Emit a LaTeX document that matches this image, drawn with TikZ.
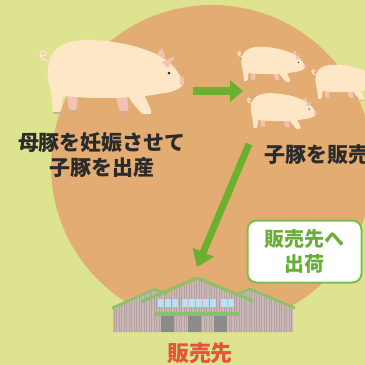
\documentclass[tikz,border=0pt]{standalone}
\usepackage{fontspec}
\newfontfamily\jp{Noto Sans CJK JP}
\usetikzlibrary{arrows.meta}
\definecolor{Field}{HTML}{DDE38F}
\definecolor{Disc}{HTML}{E2AC72}
\definecolor{Leaf}{HTML}{6BB02F}
\definecolor{LeafLine}{HTML}{7CBF4A}
\definecolor{LeafText}{HTML}{6AAE3A}
\definecolor{Brick}{HTML}{E2553B}
\definecolor{Ink}{HTML}{2B2B2B}
\definecolor{Hide}{HTML}{FDE7C6}
\definecolor{HideDark}{HTML}{E9CFAE}
\definecolor{Snout}{HTML}{F4C2B4}
\definecolor{Hoof}{HTML}{C9B09E}
\definecolor{Wall}{HTML}{CAB8B8}
\definecolor{WallLine}{HTML}{B5A1A2}
\definecolor{Roof}{HTML}{8AC166}
\definecolor{Pane}{HTML}{B9E1F4}
\definecolor{Door}{HTML}{8B8B8B}

% one pig, drawn in the frame of the big sow: x shift, y shift, scale
\newcommand{\pig}[3]{%
  \begin{scope}[shift={(#1,#2)},scale=#3]
    \draw[HideDark,line width=#3*2.6pt,line cap=round]
      (51,61) .. controls (45,62) and (40,58) .. (40,54)
      .. controls (40,50) and (46,49) .. (46,53)
      .. controls (46,56) and (42,57) .. (41,55);
    \draw[Hide,line width=#3*1.4pt,line cap=round]
      (51,61) .. controls (45,62) and (40,58) .. (40,54)
      .. controls (40,50) and (46,49) .. (46,53)
      .. controls (46,56) and (42,57) .. (41,55);
    % legs on the far side
    \fill[Snout,rounded corners=#3*2pt] (67,92) -- (78,92) -- (77,109) -- (74,111) -- (70,111) -- (68,106) -- cycle;
    \fill[Snout,rounded corners=#3*2pt] (114,92) -- (126,92) -- (129,109) -- (125,112) -- (120,112) -- (118,104) -- cycle;
    % body
    \fill[Hide] (49,63) .. controls (52,45) and (70,39) .. (92,40)
      .. controls (120,41) and (145,48) .. (160,56)
      .. controls (170,62) and (176,68) .. (180,76)
      .. controls (184,78) and (185,85) .. (181,87)
      .. controls (176,91) and (168,93) .. (158,94)
      .. controls (140,98) and (100,99) .. (75,97)
      .. controls (60,96) and (50,92) .. (48,80)
      .. controls (47,73) and (48,68) .. cycle;
    % legs on the near side
    \fill[Hide,rounded corners=#3*2pt] (49,82) -- (64,88) -- (61,112) -- (53,113) -- (52,98) -- cycle;
    \fill[Hide,rounded corners=#3*2pt] (124,88) -- (141,88) -- (152,112) -- (150,115) -- (143,115) -- (131,101) -- cycle;
    \fill[Hoof] (53,112) rectangle (61,114);
    \fill[Hoof] (143,114) rectangle (151,116);
    \fill[Hoof] (70,110) rectangle (76,112);
    \fill[Hoof] (120,111) rectangle (127,113);
    % head
    \fill[Snout] (182,81) ellipse [x radius=2.5, y radius=4.5];
    \fill[Snout] (156,55) -- (162,48) -- (166,58) -- cycle;
    \fill[Snout] (162,62) -- (175,56) -- (168,68) -- cycle;
    \fill[Ink] (169,73) circle [radius=1.5];
  \end{scope}}

\begin{document}
\begin{tikzpicture}[x=1pt,y=-1pt,
    flow/.style={Leaf,line width=8pt,-{Triangle[length=13pt,width=21pt]}},
    jtext/.style={font=\jp\bfseries\fontsize{21}{25}\selectfont,text=Ink,align=center,inner sep=0pt}]
  \fill[Field] (0,0) rectangle (365,365);
  \clip (0,0) rectangle (365,365);
  \fill[Disc] (212,166) circle [radius=161pt];

  % sow and her litter
  \pig{0}{0}{1}
  \pig{219}{28}{0.47}
  \pig{293}{46}{0.47}
  \pig{228}{74}{0.48}

  \node[jtext] (birth) at (102,155) {母豚を妊娠させて\\子豚を出産};
  \node[jtext,anchor=west] (sell) at (264,155) {子豚を販売};

  \coordinate (sowside) at (193,91);
  \coordinate (litter) at (243,91);
  \coordinate (saleside) at (249,144);
  \coordinate (shop) at (197,267);
  \draw[flow] (sowside) -- (litter);
  \draw[flow,line width=7pt,-{Triangle[length=16pt,width=22pt]}] (saleside) -- (shop);

  \node[draw=LeafLine,line width=2pt,fill=white,rounded corners=9pt,
    minimum width=114pt,minimum height=62pt,align=center,text=LeafText,
    font=\jp\bfseries\fontsize{20}{25}\selectfont] (ship) at (304.5,251.5) {販売先へ\\出荷};

  % the buyer's shed
  \def\shed{(113,309) -- (154,291) -- (165,295) -- (197,280) -- (238,295) -- (250,290) -- (293,309) -- (293,332) -- (113,332) -- cycle}
  \fill[Wall] \shed;
  \begin{scope}
    \clip \shed;
    \foreach \x in {114,116.5,...,292}
      \draw[WallLine,line width=0.6pt] (\x,270) -- (\x,335);
  \end{scope}
  \draw[Roof,line width=2.5pt,line join=round] (112,308) -- (155,289) -- (167,294);
  \draw[Roof,line width=2.5pt,line join=round] (238,294) -- (250,289) -- (295,308);
  \draw[Roof,line width=3pt,line join=round] (141,302) -- (197,278) -- (253,301);
  \foreach \x in {158,165,172,182,189,196,203,210,221,228}
    \fill[Pane] (\x,299) rectangle ++(6.2,8);
  \fill[Roof] (155,312) rectangle (239,316);
  \foreach \x in {161,188,214}
    \fill[Door] (\x,316) rectangle ++(12.5,16);

  \node[font=\jp\bfseries\fontsize{22}{26}\selectfont,text=Brick,inner sep=0pt] (buyer) at (200,353) {販売先};
\end{tikzpicture}
\end{document}
